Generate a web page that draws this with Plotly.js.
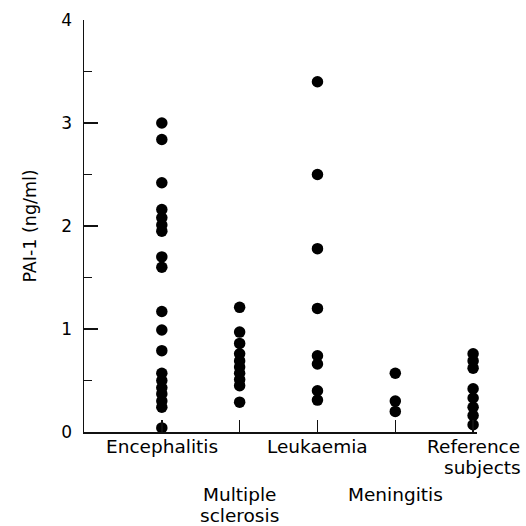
<!DOCTYPE html>
<html>
<head>
<meta charset="utf-8">
<script src="https://cdn.plot.ly/plotly-3.0.1.min.js"></script>
<style>html,body{margin:0;padding:0;background:#fff;}#chart{width:526px;height:526px;}</style>
</head>
<body>
<div id="chart"></div>
<script>
const categories = ["Encephalitis", "Multiple sclerosis", "Leukaemia", "Meningitis", "Reference subjects"];
const categoryLabelLines = [["Encephalitis"], ["Multiple", "sclerosis"], ["Leukaemia"], ["Meningitis"], ["Reference", "subjects"]];
const labelRow = [0, 1, 0, 1, 0];
const encephalitis = [3.00, 2.84, 2.42, 2.16, 2.08, 2.01, 1.95, 1.70, 1.60, 1.17, 0.99, 0.79, 0.57, 0.50, 0.43, 0.37, 0.30, 0.24, 0.04];
const multipleSclerosis = [1.21, 0.97, 0.86, 0.76, 0.69, 0.63, 0.57, 0.51, 0.45, 0.29];
const leukaemia = [3.40, 2.50, 1.78, 1.20, 0.74, 0.66, 0.40, 0.31];
const meningitis = [0.57, 0.30, 0.20];
const referenceSubjects = [0.76, 0.69, 0.62, 0.42, 0.33, 0.24, 0.16, 0.07];
const yTicks = [0, 1, 2, 3, 4];

const series = [encephalitis, multipleSclerosis, leukaemia, meningitis, referenceSubjects];
const xs = [], ys = [];
series.forEach((vals, i) => vals.forEach(v => { xs.push(categories[i]); ys.push(v); }));

const font = "DejaVu Sans, Arial, sans-serif";
const trace = {
  type: "scatter", mode: "markers", x: xs, y: ys,
  marker: {size: 11.5, color: "#000"}, cliponaxis: false, hoverinfo: "skip"
};

const annotations = [];
categories.forEach((c, i) => {
  categoryLabelLines[i].forEach((line, j) => {
    const center = (labelRow[i] === 0 ? 14 : 62) + j * 21;
    annotations.push({
      x: c, xref: "x", y: 0, yref: "paper",
      text: line, showarrow: false,
      xanchor: "center", yanchor: "middle",
      yshift: -center, xshift: (i === 4 && j === 1) ? 9 : 0,
      font: {family: font, size: 18.5, color: "#000"}
    });
  });
});

const layout = {
  width: 526, height: 526,
  margin: {l: 84, r: 49, t: 20, b: 94},
  paper_bgcolor: "#fff", plot_bgcolor: "#fff",
  showlegend: false,
  xaxis: {
    type: "category", categoryorder: "array", categoryarray: categories,
    range: [-1, 4.05], showline: true, linecolor: "#111", linewidth: 1.5,
    ticks: "inside", ticklen: 12, tickwidth: 1.5, tickcolor: "#111",
    showticklabels: false, showgrid: false, zeroline: false
  },
  yaxis: {
    range: [0, 4], tickvals: yTicks, ticktext: yTicks.map(String),
    showline: true, linecolor: "#111", linewidth: 1.5,
    ticks: "inside", ticklen: 14, tickwidth: 1.5, tickcolor: "#111",
    minor: {ticks: "inside", ticklen: 8, tickwidth: 1.5, tickcolor: "#111", dtick: 0.5, tick0: 0},
    ticklabelstandoff: 7,
    tickfont: {family: font, size: 17, color: "#000"},
    showgrid: false, zeroline: false,
    title: {text: "PAI-1 (ng/ml)", font: {family: font, size: 17.5, color: "#000"}, standoff: 20}
  },
  annotations: annotations
};

Plotly.newPlot("chart", [trace], layout, {staticPlot: true, displayModeBar: false});
</script>
</body>
</html>
